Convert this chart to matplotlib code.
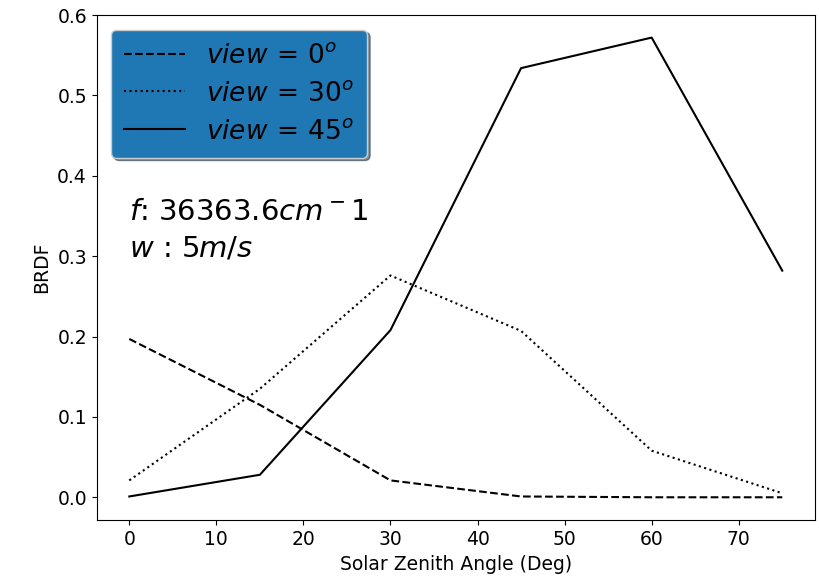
from matplotlib import pyplot as plt

# Solar zenith angles and BRDF values per view angle
sza = [0, 15, 30, 45, 60, 75]
brdf_view0 = [0.197, 0.115, 0.021, 0.001, 0.0, 0.0]
brdf_view30 = [0.021, 0.135, 0.276, 0.207, 0.058, 0.005]
brdf_view45 = [0.001, 0.028, 0.208, 0.534, 0.572, 0.282]

plt.rcParams['font.size'] = 13.5

fig = plt.figure(figsize=(8.19, 5.8), dpi=100)
ax = fig.add_subplot(111)
fig.subplots_adjust(left=0.118, right=0.995, top=0.974, bottom=0.103)

ax.plot(sza, brdf_view0, 'k--', label=r'$view\,=\,0^o$')
ax.plot(sza, brdf_view30, 'k:', label=r'$view\,=\,30^o$')
ax.plot(sza, brdf_view45, 'k-', label=r'$view\,=\,45^o$')

ax.set_ylim(-0.0286, 0.6)
ax.set_xlabel('Solar Zenith Angle (Deg)')
ax.set_ylabel('BRDF')

leg = ax.legend(loc='upper left', fontsize=19, shadow=True,
                facecolor='#1f77b4', framealpha=1, handlelength=2.3,
                borderaxespad=0.55, labelspacing=0.45, borderpad=0.5)

ax.text(0, 0.3, '$f$: $36363.6cm^-1$\n$w$ : $5m/s$', fontsize=21,
        linespacing=1.35)

plt.savefig('out.png')
